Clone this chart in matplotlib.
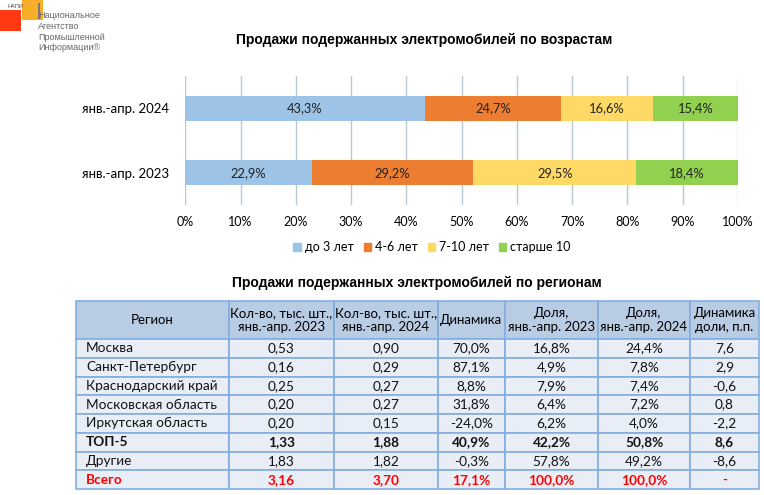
import numpy as np
import matplotlib.pyplot as plt
from matplotlib.patches import Patch, Rectangle

# Bar chart data (shares by age, %)
periods = ['янв.-апр. 2023', 'янв.-апр. 2024']
age_groups = ['до 3 лет', '4-6 лет', '7-10 лет', 'старше 10']
shares_2023 = [22.9, 29.2, 29.5, 18.4]
shares_2024 = [43.3, 24.7, 16.6, 15.4]
bar_colors = ['#9DC3E6', '#ED7D31', '#FFD966', '#92D050']

# Table data
regions = ['Москва', 'Санкт-Петербург', 'Краснодарский край', 'Московская область',
           'Иркутская область', 'ТОП-5', 'Другие', 'Всего']
qty_2023 = [0.53, 0.16, 0.25, 0.20, 0.20, 1.33, 1.83, 3.16]
qty_2024 = [0.90, 0.29, 0.27, 0.27, 0.15, 1.88, 1.82, 3.70]
dynamics = [70.0, 87.1, 8.8, 31.8, -24.0, 40.9, -0.3, 17.1]
share_2023 = [16.8, 4.9, 7.9, 6.4, 6.2, 42.2, 57.8, 100.0]
share_2024 = [24.4, 7.8, 7.4, 7.2, 4.0, 50.8, 49.2, 100.0]
share_dyn = [7.6, 2.9, -0.6, 0.8, -2.2, 8.6, -8.6, None]
headers = ['Регион', 'Кол-во, тыс. шт.,\nянв.-апр. 2023', 'Кол-во, тыс. шт.,\nянв.-апр. 2024',
           'Динамика', 'Доля,\nянв.-апр. 2023', 'Доля,\nянв.-апр. 2024', 'Динамика\nдоли, п.п.']


def ru(v, digits=2, pct=False):
    if v is None:
        return '-'
    s = f'{v:.{digits}f}'.replace('.', ',')
    return s + '%' if pct else s


W, H = 764, 495
fig = plt.figure(figsize=(W / 100, H / 100), dpi=100)
body_font = 'Lato'
title_font = 'Liberation Sans'

# --- stacked bar chart ---
ax = fig.add_axes([185.3 / W, 1 - 205 / H, (738 - 185.3) / W, (205 - 76) / H])
data = np.array([shares_2023, shares_2024])
left = np.zeros(len(periods))
for i, name in enumerate(age_groups):
    vals = data[:, i]
    ax.barh(periods, vals, left=left, height=0.39, color=bar_colors[i], label=name, zorder=3)
    for y, (l, v) in enumerate(zip(left, vals)):
        ax.text(l + v / 2, y, ru(v, 1, True), ha='center', va='center',
                fontsize=9.3, family=body_font, color='#222222', zorder=4)
    left += vals

ax.set_xlim(0, 100)
ax.set_ylim(-0.5, 1.5)
ax.set_xticks(np.arange(0, 101, 10))
ax.set_xticklabels([f'{t}%' for t in range(0, 101, 10)], family=body_font, fontsize=9)
ax.set_yticks(range(len(periods)))
ax.set_yticklabels(periods, family=body_font, fontsize=9.5)
ax.grid(axis='x', color='#B7C9D3', linewidth=1, zorder=0)
ax.tick_params(length=0, pad=8)
ax.tick_params(axis='y', pad=12)
for s in ax.spines.values():
    s.set_visible(False)

fig.text(424 / W, 1 - 40 / H, 'Продажи подержанных электромобилей по возрастам',
         ha='center', va='center', fontsize=10, fontweight='bold', family=title_font)

handles = [Patch(color=c, label=n) for c, n in zip(bar_colors, age_groups)]
fig.legend(handles=handles, loc='center', bbox_to_anchor=(432 / W, 1 - 247 / H), ncol=4,
           frameon=False, prop={'family': body_font, 'size': 9}, handlelength=0.6,
           handleheight=0.6, handletextpad=0.3, columnspacing=0.8)

fig.text(417 / W, 1 - 283 / H, 'Продажи подержанных электромобилей по регионам',
         ha='center', va='center', fontsize=10, fontweight='bold', family=title_font)

# --- table drawn in pixel coordinates ---
tx = fig.add_axes([0, 0, 1, 1])
tx.set_xlim(0, W)
tx.set_ylim(H, 0)
tx.axis('off')

col_edges = [76, 229, 334, 438, 505, 598, 690, 759]
head_top, head_bot = 301, 339
row_h = (489 - head_bot) / len(regions)
border = '#82AEDF'

for c in range(len(headers)):
    x0, x1 = col_edges[c], col_edges[c + 1]
    tx.add_patch(Rectangle((x0, head_top), x1 - x0, head_bot - head_top,
                           facecolor='#B8CCE4', edgecolor=border, linewidth=1.2))
    tx.text((x0 + x1) / 2, (head_top + head_bot) / 2, headers[c], ha='center', va='center',
            fontsize=9.5, family=body_font, linespacing=1.15)

columns = [qty_2023, qty_2024, dynamics, share_2023, share_2024, share_dyn]
fmts = [(2, False), (2, False), (1, True), (1, True), (1, True), (1, False)]
for r, reg in enumerate(regions):
    y0 = head_bot + r * row_h
    yc = y0 + row_h / 2
    weight = 'bold' if reg in ('ТОП-5', 'Всего') else 'normal'
    color = '#FF0000' if reg == 'Всего' else '#111111'
    for c in range(len(headers)):
        x0, x1 = col_edges[c], col_edges[c + 1]
        tx.add_patch(Rectangle((x0, y0), x1 - x0, row_h, facecolor='#E9EEF6',
                               edgecolor=border, linewidth=1.2))
    tx.text(col_edges[0] + 10, yc, reg, ha='left', va='center', fontsize=9.8,
            family=body_font, fontweight=weight, color=color)
    for c, (vals, (dg, pct)) in enumerate(zip(columns, fmts), start=1):
        tx.text((col_edges[c] + col_edges[c + 1]) / 2, yc, ru(vals[r], dg, pct), ha='center',
                va='center', fontsize=9.8, family=body_font, fontweight=weight, color=color)

# --- logo ---
tx.add_patch(Rectangle((0, 10), 21, 21, facecolor='#FF3A12', edgecolor='none'))
tx.add_patch(Rectangle((22, 0), 21, 20, facecolor='#F9AE2A', edgecolor='none'))
tx.add_patch(Rectangle((38, 3), 1.6, 16, facecolor='#777777', edgecolor='none'))
tx.text(7, 6, 'НАПИ', fontsize=4, color='#444444', va='center', family=title_font)
for i, line in enumerate(['Национальное', 'Агентство', 'Промышленной', 'Информации®']):
    tx.text(38, 16 + i * 10.5, line, fontsize=6.5, color='#666666',
            va='center', family=title_font)

fig.savefig('out.png', dpi=100)
